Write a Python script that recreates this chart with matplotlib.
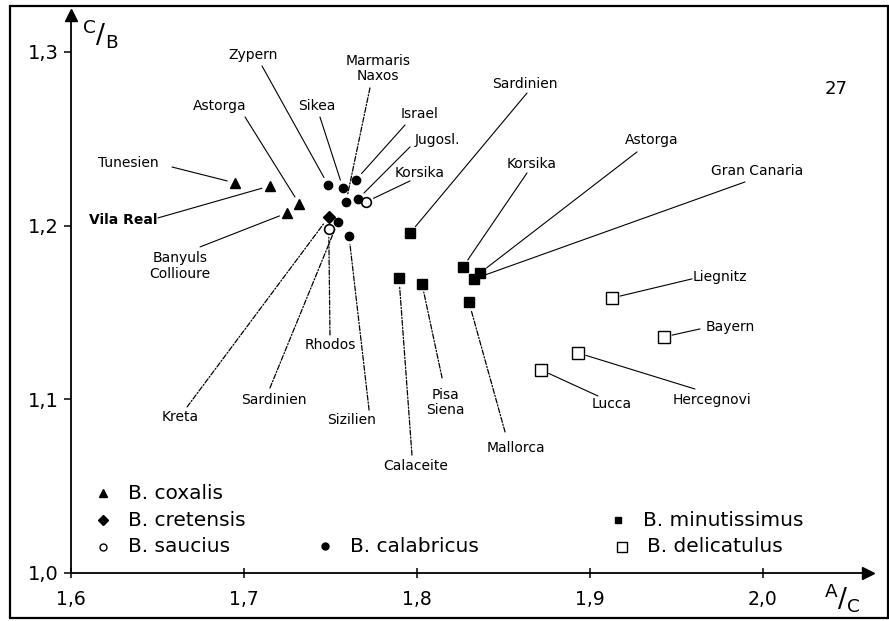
import matplotlib
matplotlib.use("Agg")
import matplotlib.pyplot as plt
from matplotlib.patches import Rectangle

# data: A/C (x) and C/B (y) per species
coxalis_x = [1.695, 1.715, 1.732, 1.725]
coxalis_y = [1.2245, 1.2228, 1.2124, 1.2073]
cretensis_x = [1.749]
cretensis_y = [1.205]
saucius_x = [1.749, 1.7705]
saucius_y = [1.198, 1.2136]
calabricus_x = [1.7486, 1.7572, 1.7647, 1.759, 1.7659, 1.7543, 1.7607]
calabricus_y = [1.2234, 1.2216, 1.2263, 1.2136, 1.2153, 1.2021, 1.194]
minutissimus_x = [1.796, 1.8266, 1.8364, 1.833, 1.7896, 1.8029, 1.830]
minutissimus_y = [1.1957, 1.1762, 1.1727, 1.1693, 1.1698, 1.1664, 1.156]
delicatulus_x = [1.9127, 1.9428, 1.893, 1.8717]
delicatulus_y = [1.1583, 1.1359, 1.1267, 1.1169]

x_ticks = [1.6, 1.7, 1.8, 1.9, 2.0]
x_ticklabels = ["1,6", "1,7", "1,8", "1,9", "2,0"]
y_ticks = [1.0, 1.1, 1.2, 1.3]
y_ticklabels = ["1,0", "1,1", "1,2", "1,3"]

groups = {
    "cox": (coxalis_x, coxalis_y),
    "cre": (cretensis_x, cretensis_y),
    "sau": (saucius_x, saucius_y),
    "cal": (calabricus_x, calabricus_y),
    "min": (minutissimus_x, minutissimus_y),
    "del": (delicatulus_x, delicatulus_y),
}

# locality labels: text, group, index
loc_names = ["Tunesien", "Vila Real", "Astorga", "Banyuls\nCollioure", "Zypern",
             "Sikea", "Marmaris\nNaxos", "Israel", "Jugosl.", "Korsika",
             "Sardinien", "Korsika", "Astorga", "Gran Canaria", "Liegnitz",
             "Bayern", "Hercegnovi", "Lucca", "Mallorca", "Calaceite",
             "Pisa\nSiena", "Sizilien", "Rhodos", "Sardinien", "Kreta"]
loc_target = [("cox", 0), ("cox", 1), ("cox", 2), ("cox", 3), ("cal", 0),
              ("cal", 1), ("cal", 3), ("cal", 2), ("cal", 4), ("sau", 1),
              ("min", 0), ("min", 1), ("min", 2), ("min", 3), ("del", 0),
              ("del", 1), ("del", 2), ("del", 3), ("min", 6), ("min", 4),
              ("min", 5), ("cal", 6), ("sau", 0), ("cal", 5), ("cre", 0)]

# layout: label centre, leader start, line style
label_pos = [(1.633, 1.236), (1.630, 1.2032), (1.6861, 1.2689), (1.663, 1.1767),
             (1.7052, 1.2982), (1.7422, 1.2689), (1.7775, 1.2902), (1.8012, 1.2642),
             (1.8116, 1.2493), (1.8017, 1.2303), (1.8624, 1.2815), (1.8665, 1.2355),
             (1.9358, 1.2493), (1.9965, 1.2314), (1.9751, 1.1704), (1.9809, 1.1416),
             (1.9705, 1.0996), (1.9127, 1.0973), (1.8572, 1.072), (1.7994, 1.0616),
             (1.8162, 1.0984), (1.7624, 1.0881), (1.7497, 1.1313), (1.7173, 1.0996),
             (1.663, 1.0898)]
line_start = [(1.6584, 1.2337), (1.6503, 1.2044), (1.7006, 1.2625), (1.6746, 1.1877),
              (1.7104, 1.2919), (1.7439, 1.2625), (1.7728, 1.2792), (1.7931, 1.2579),
              (1.796, 1.2453), (1.796, 1.2257), (1.8636, 1.2763), (1.8636, 1.2303),
              (1.9272, 1.2424), (1.9896, 1.2251), (1.959, 1.1693), (1.9636, 1.1405),
              (1.9607, 1.1059), (1.9046, 1.1019), (1.8509, 1.0812), (1.7971, 1.0679),
              (1.8145, 1.1123), (1.7723, 1.0938), (1.7497, 1.137), (1.715, 1.1065),
              (1.6671, 1.0956)]
dotted = [False, False, False, False, False, False, True, False, False, False,
          False, False, False, False, False, False, False, False, True, True,
          True, True, True, True, True]

plt.rcParams['font.family'] = ['DejaVu Sans']
plt.rcParams['mathtext.fontset'] = 'dejavusans'

fig = plt.figure(figsize=(8.89, 6.21), dpi=100)
W, H = 889, 621
ax = fig.add_axes([71 / W, (H - 573) / H, 797 / W, 558 / H])
ax.set_xlim(1.6, 2.0607)
ax.set_ylim(1.0, 1.3212)

for s in ["top", "right"]:
    ax.spines[s].set_visible(False)
for s in ["left", "bottom"]:
    ax.spines[s].set_linewidth(1.3)
ax.plot(1, 0, ">", color="k", ms=9, transform=ax.transAxes, clip_on=False)
ax.plot(0, 1, "^", color="k", ms=9, transform=ax.transAxes, clip_on=False)

ax.set_xticks(x_ticks)
ax.set_xticklabels(x_ticklabels, fontsize=13.5)
ax.set_yticks(y_ticks)
ax.set_yticklabels(y_ticklabels, fontsize=14)
ax.tick_params(axis="x", direction="inout", length=7, width=1.1, pad=9)
ax.tick_params(axis="y", direction="out", length=5, width=1.1, pad=4)

# axis quotients, one text each
fig.text(100 / W, 1 - 33 / H, r"$^{\mathrm{C}}/_{\mathrm{B}}$",
         fontsize=19, ha="center", va="center")
fig.text(842 / W, 1 - 598 / H, r"$^{\mathrm{A}}/_{\mathrm{C}}$",
         fontsize=19, ha="center", va="center")
ax.text(2.042, 1.2785, "27", fontsize=13, ha="center", va="center")

# leader lines
for name, (g, i), lp, ls0, dot in zip(loc_names, loc_target, label_pos, line_start, dotted):
    px, py = groups[g][0][i], groups[g][1][i]
    ax.annotate("", xy=(px, py), xytext=ls0,
                arrowprops=dict(arrowstyle="-", shrinkA=0, shrinkB=6,
                                lw=0.8 if not dot else 0.9, color="k",
                                ls=(0, (4, 1.5, 1, 1.5)) if dot else "-"))
    ax.text(lp[0], lp[1], name, fontsize=10, ha="center", va="center",
            linespacing=1.1,
            fontweight="bold" if name == "Vila Real" else "normal")

# markers
ax.plot(coxalis_x, coxalis_y, "^", color="k", ms=7, ls="none")
ax.plot(cretensis_x, cretensis_y, "D", color="k", ms=6, ls="none")
ax.plot(saucius_x, saucius_y, "o", mfc="white", mec="k", mew=1.2, ms=7, ls="none")
ax.plot(calabricus_x, calabricus_y, "o", color="k", ms=6, ls="none")
ax.plot(minutissimus_x, minutissimus_y, "s", color="k", ms=7, ls="none")
ax.plot(delicatulus_x, delicatulus_y, "s", mfc="white", mec="k", mew=1.0, ms=9, ls="none")

# hand-made legend
leg = [("^", "k", 1.6185, 1.046, 6, "B. coxalis"),
       ("D", "k", 1.6185, 1.0305, 5, "B. cretensis"),
       ("o", "white", 1.6185, 1.015, 5, "B. saucius"),
       ("o", "k", 1.7468, 1.0155, 5, "B. calabricus"),
       ("s", "k", 1.9162, 1.0305, 5, "B. minutissimus"),
       ("s", "white", 1.9185, 1.015, 7, "B. delicatulus")]
for m, fc, lx, ly, ms, txt in leg:
    ax.plot(lx, ly, m, mfc=fc, mec="k", ms=ms, mew=1.0)
    ax.text(lx + 0.0145, ly, txt, fontsize=14.5, ha="left", va="center")

# scanned page frame
fig.add_artist(Rectangle((10 / W, 3 / H), 878 / W, 612 / H, fill=False,
                         lw=1.6, ec="k", transform=fig.transFigure))

fig.savefig("out.png", dpi=100)
